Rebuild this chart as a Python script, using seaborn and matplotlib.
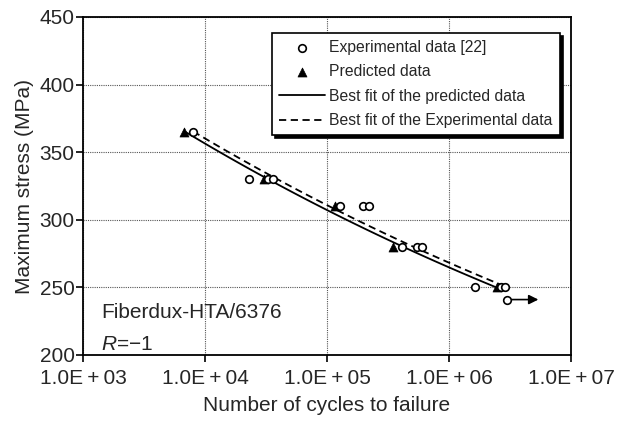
import numpy as np
import pandas as pd
import matplotlib
matplotlib.use("Agg")
import matplotlib.pyplot as plt
import seaborn as sns

# ---- data ----
exp_cycles = [8000, 23000, 33000, 36000, 128000, 197000, 221000,
              412000, 547000, 601000, 1630000, 2670000, 2880000]
exp_stress = [365, 330, 330, 330, 310, 310, 310, 280, 280, 280, 250, 250, 250]
runout_cycles = [3000000]
runout_stress = [241]
runout_arrow_end = 5400000

pred_cycles = [6730, 30500, 116000, 347000, 2470000]
pred_stress = [365, 330, 310, 280, 250]

x_ticks = [1e3, 1e4, 1e5, 1e6, 1e7]
x_ticklabels = ["1.0E\u2009+\u200903", "1.0E\u2009+\u200904", "1.0E\u2009+\u200905",
                "1.0E\u2009+\u200906", "1.0E\u2009+\u200907"]
y_ticks = [200, 250, 300, 350, 400, 450]

legend_labels = ["Experimental data [22]", "Predicted data",
                 "Best fit of the predicted data", "Best fit of the Experimental data"]

# ---- style ----
sns.set_style("ticks")
plt.rcParams["font.family"] = ["Liberation Sans", "DejaVu Sans"]
plt.rcParams["mathtext.fontset"] = "custom"
plt.rcParams["mathtext.it"] = "Liberation Sans:italic"
plt.rcParams["mathtext.rm"] = "Liberation Sans"

fig = plt.figure(figsize=(6.21, 4.24), dpi=100)
ax = fig.add_axes([83 / 621, 1 - 355 / 424, 488 / 621, 338 / 424])


def power_fit(n, s):
    b, a = np.polyfit(np.log10(n), np.log10(s), 1)
    xs = np.logspace(np.log10(min(n)), np.log10(max(n)), 100)
    return xs, 10 ** (a + b * np.log10(xs))


px, py = power_fit(pred_cycles, pred_stress)
ex, ey = power_fit(exp_cycles, exp_stress)

sns.lineplot(x=px, y=py, ax=ax, color="black", lw=1.3, label=legend_labels[2])
sns.lineplot(x=ex, y=ey, ax=ax, color="black", lw=1.3, dashes=False,
             linestyle=(0, (4, 2.5)), label=legend_labels[3])
sns.scatterplot(x=exp_cycles, y=exp_stress, ax=ax, marker="o", s=30,
                facecolor="white", edgecolor="black", linewidth=1.2,
                label=legend_labels[0], zorder=4)
sns.scatterplot(x=pred_cycles, y=pred_stress, ax=ax, marker="^", s=42,
                color="black", edgecolor="black", linewidth=0.5,
                label=legend_labels[1], zorder=3)
sns.scatterplot(x=runout_cycles, y=runout_stress, ax=ax, marker="o", s=30,
                facecolor="white", edgecolor="black", linewidth=1.2, zorder=4,
                legend=False)
ax.annotate("", xy=(runout_arrow_end, runout_stress[0]),
            xytext=(runout_cycles[0] * 1.05, runout_stress[0]),
            arrowprops=dict(arrowstyle="-|>", color="black", lw=1.2,
                            mutation_scale=14, shrinkA=0, shrinkB=0))

ax.set_xscale("log")
ax.set_xlim(1e3, 1e7)
ax.set_ylim(200, 450)
ax.set_xticks(x_ticks)
ax.set_xticklabels(x_ticklabels)
ax.set_yticks(y_ticks)
ax.minorticks_off()
ax.tick_params(axis="both", labelsize=15, length=5, width=1.2, color="black",
               direction="out")
ax.tick_params(axis="x", pad=5)
ax.tick_params(axis="y", pad=1)
ax.grid(True, linestyle=(0, (1, 1)), color="#555555", lw=0.8)
for sp in ax.spines.values():
    sp.set_visible(True)
    sp.set_linewidth(1.3)
    sp.set_color("black")

ax.set_xlabel("Number of cycles to failure", fontsize=15, labelpad=6)
ax.set_ylabel("Maximum stress (MPa)", fontsize=15, labelpad=4)

ax.text(0.037, 0.109, "Fiberdux-HTA/6376", transform=ax.transAxes,
        fontsize=15, va="baseline", ha="left")
ax.text(0.037, 0.015, "$R$=\u22121", transform=ax.transAxes,
        fontsize=15, va="baseline", ha="left")

handles, labels = ax.get_legend_handles_labels()
order = [labels.index(l) for l in legend_labels]
leg = ax.legend([handles[i] for i in order], [labels[i] for i in order],
                loc="upper right", bbox_to_anchor=(0.977, 0.953),
                fontsize=11.3, frameon=True, fancybox=False,
                shadow={"color": "black", "alpha": 1.0},
                edgecolor="black", framealpha=1, borderpad=0.45,
                handlelength=2.9, handletextpad=0.3, labelspacing=0.6,
                borderaxespad=0)
leg.get_frame().set_linewidth(1.2)

fig.savefig("out.png", dpi=100)
